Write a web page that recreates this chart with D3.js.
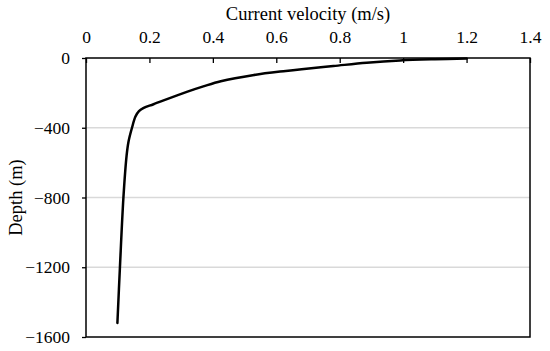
<!DOCTYPE html>
<html>
<head>
<meta charset="utf-8">
<script src="https://cdn.jsdelivr.net/npm/d3@7"></script>
<style>
  html, body { margin: 0; padding: 0; background: #fff; }
</style>
</head>
<body>
<svg id="chart" width="550" height="351"></svg>
<script>
const velocity = [1.2, 1.1, 0.99, 0.885, 0.78, 0.68, 0.63, 0.53, 0.425, 0.37, 0.32, 0.213, 0.182, 0.167, 0.156, 0.145, 0.134, 0.128, 0.118, 0.107, 0.099];
const depth    = [-3, -7, -14, -27, -46, -64, -74, -97, -133, -163, -193, -265, -286, -305, -336, -400, -480, -560, -800, -1200, -1520];
const xTicks = [0, 0.2, 0.4, 0.6, 0.8, 1, 1.2, 1.4];
const yTicks = [0, -400, -800, -1200, -1600];
const yGrid = [-400, -800, -1200];

const FONT = "'Liberation Serif', cursive";
const margin = {left: 86, top: 58, right: 20, bottom: 14};
const W = 550, H = 351;
const x = d3.scaleLinear().domain([0, 1.4]).range([margin.left, W - margin.right]);
const y = d3.scaleLinear().domain([0, -1600]).range([margin.top, H - margin.bottom]);

const svg = d3.select("#chart");

svg.append("g").selectAll("line").data(yGrid).join("line")
  .attr("x1", x(0)).attr("x2", x(1.4))
  .attr("y1", d => y(d)).attr("y2", d => y(d))
  .attr("stroke", "#d9d9d9").attr("stroke-width", 1.3);

const xAxis = d3.axisTop(x).tickValues(xTicks).tickSize(-5).tickPadding(15)
  .tickFormat(d => d3.format("")(d));
const gx = svg.append("g").attr("transform", `translate(0,${y(0)})`).call(xAxis);
gx.attr("font-family", null).attr("font-size", null);
gx.select(".domain").remove();
gx.selectAll(".tick line").attr("stroke", "#000").attr("stroke-width", 1.3);
gx.selectAll(".tick text").attr("fill", "#000").attr("font-family", FONT).attr("font-size", 17.5);

const yAxis = d3.axisLeft(y).tickValues(yTicks).tickSize(4).tickPadding(12)
  .tickFormat(d => d === 0 ? "0" : "\u2212" + Math.abs(d));
const gy = svg.append("g").attr("transform", `translate(${x(0)},0)`).call(yAxis);
gy.attr("font-family", null).attr("font-size", null);
gy.select(".domain").remove();
gy.selectAll(".tick line").attr("stroke", "#000").attr("stroke-width", 1.3);
gy.selectAll(".tick text").attr("fill", "#000").attr("font-family", FONT).attr("font-size", 17.5);

svg.append("rect")
  .attr("x", x(0)).attr("y", y(0))
  .attr("width", x(1.4) - x(0)).attr("height", y(-1600) - y(0))
  .attr("fill", "none").attr("stroke", "#000").attr("stroke-width", 1.5);

const data = velocity.map((v, i) => ({v, d: depth[i]}));
svg.append("path").datum(data)
  .attr("fill", "none").attr("stroke", "#000").attr("stroke-width", 2.5)
  .attr("stroke-linejoin", "round").attr("stroke-linecap", "round")
  .attr("d", d3.line().x(p => x(p.v)).y(p => y(p.d)).curve(d3.curveCatmullRom.alpha(0.5)));

svg.append("text").attr("x", (x(0) + x(1.4)) / 2).attr("y", 20)
  .attr("text-anchor", "middle").attr("font-family", FONT).attr("font-size", 18.5)
  .text("Current velocity (m/s)");

svg.append("text")
  .attr("transform", `translate(22,${(y(0) + y(-1600)) / 2}) rotate(-90)`)
  .attr("text-anchor", "middle").attr("font-family", FONT).attr("font-size", 18.5)
  .text("Depth (m)");
</script>
</body>
</html>
